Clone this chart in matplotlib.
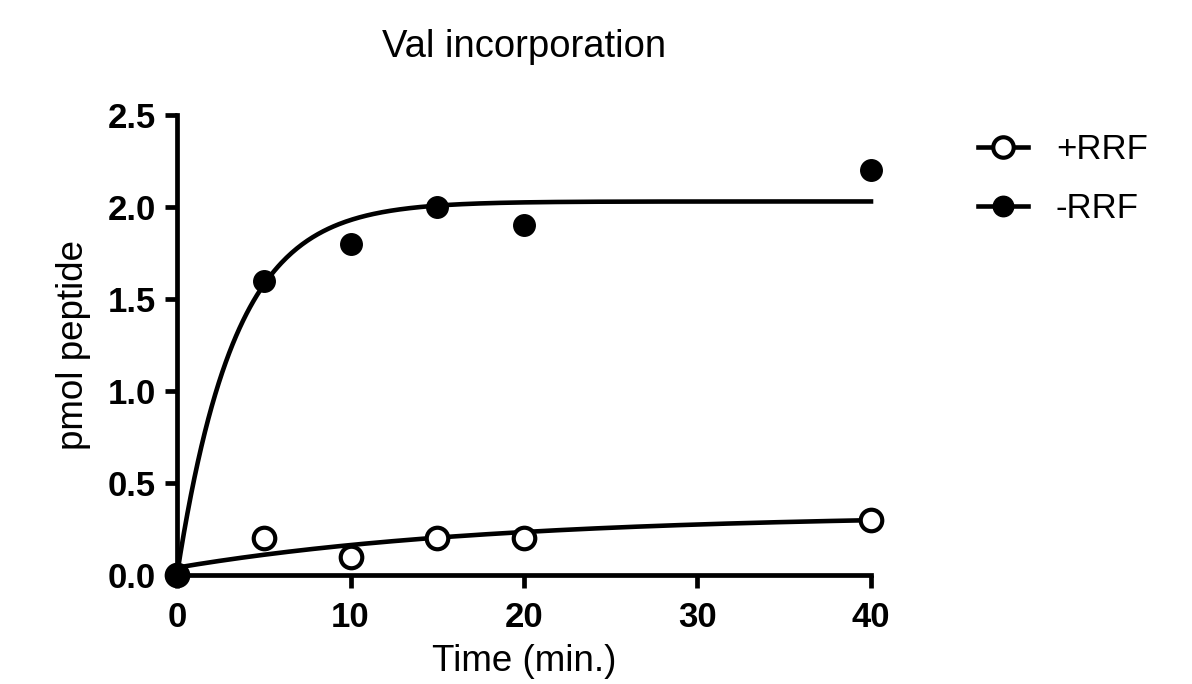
import numpy as np
import matplotlib
matplotlib.use("Agg")
import matplotlib.pyplot as plt

plt.rcParams["font.family"] = ["Liberation Sans", "DejaVu Sans"]

# ---------------- data ----------------
time_min = [0, 5, 10, 15, 20, 40]
plus_rrf = [0.0, 0.2, 0.1, 0.2, 0.2, 0.3]
minus_rrf = [0.0, 1.6, 1.8, 2.0, 1.9, 2.2]

# one-phase association fits (Y0, plateau, k)
fit_plus = (0.04, 0.33, 0.055)
fit_minus = (0.0, 2.03, 0.30)

x_ticks = [0, 10, 20, 30, 40]
y_ticks = [0.0, 0.5, 1.0, 1.5, 2.0, 2.5]


def assoc(x, y0, plateau, k):
    return y0 + (plateau - y0) * (1 - np.exp(-k * x))


fig = plt.figure(figsize=(11.92, 6.84), dpi=100)
ax = fig.add_axes([0.1485, 0.1594, 0.5822, 0.6725])

xx = np.linspace(0, 40, 400)
lw = 3.3
ms = 15.5
ax.plot(xx, assoc(xx, *fit_plus), color="black", lw=lw, zorder=2, clip_on=False)
ax.plot(xx, assoc(xx, *fit_minus), color="black", lw=lw, zorder=2, clip_on=False)

ax.plot(time_min, plus_rrf, "o", ms=ms, mfc="white", mec="black", mew=3.0,
        zorder=3, clip_on=False)
ax.plot(time_min, minus_rrf, "o", ms=ms, mfc="black", mec="black", mew=1,
        zorder=4, clip_on=False)

ax.set_xlim(0, 40)
ax.set_ylim(0, 2.5)
ax.set_xticks(x_ticks)
ax.set_yticks(y_ticks)
ax.set_yticklabels([f"{v:.1f}" for v in y_ticks])
for s in ("top", "right"):
    ax.spines[s].set_visible(False)
for s in ("left", "bottom"):
    ax.spines[s].set_linewidth(3.4)
ax.tick_params(width=3.4, length=9, labelsize=25)
ax.tick_params(axis="x", pad=10)
ax.tick_params(axis="y", pad=6)
for lab in ax.get_xticklabels() + ax.get_yticklabels():
    lab.set_fontweight("bold")

ax.set_xlabel("Time (min.)", fontsize=26.5, labelpad=7)
ax.set_ylabel("pmol peptide", fontsize=26.5, labelpad=12)
ax.set_title("Val incorporation", fontsize=27.5, pad=42)

# legend handles: line through marker
h_plus, = ax.plot([], [], "-o", color="black", lw=lw, ms=ms * 0.95, mfc="white",
                  mec="black", mew=3.0)
h_minus, = ax.plot([], [], "-o", color="black", lw=lw, ms=ms * 0.95, mfc="black")
fig.legend([h_plus, h_minus], ["+RRF", "-RRF"], loc="upper left",
           bbox_to_anchor=(0.794, 0.851), frameon=False, fontsize=25,
           handlelength=1.45, handletextpad=0.8, labelspacing=0.75)

fig.savefig("out.png", dpi=100)
